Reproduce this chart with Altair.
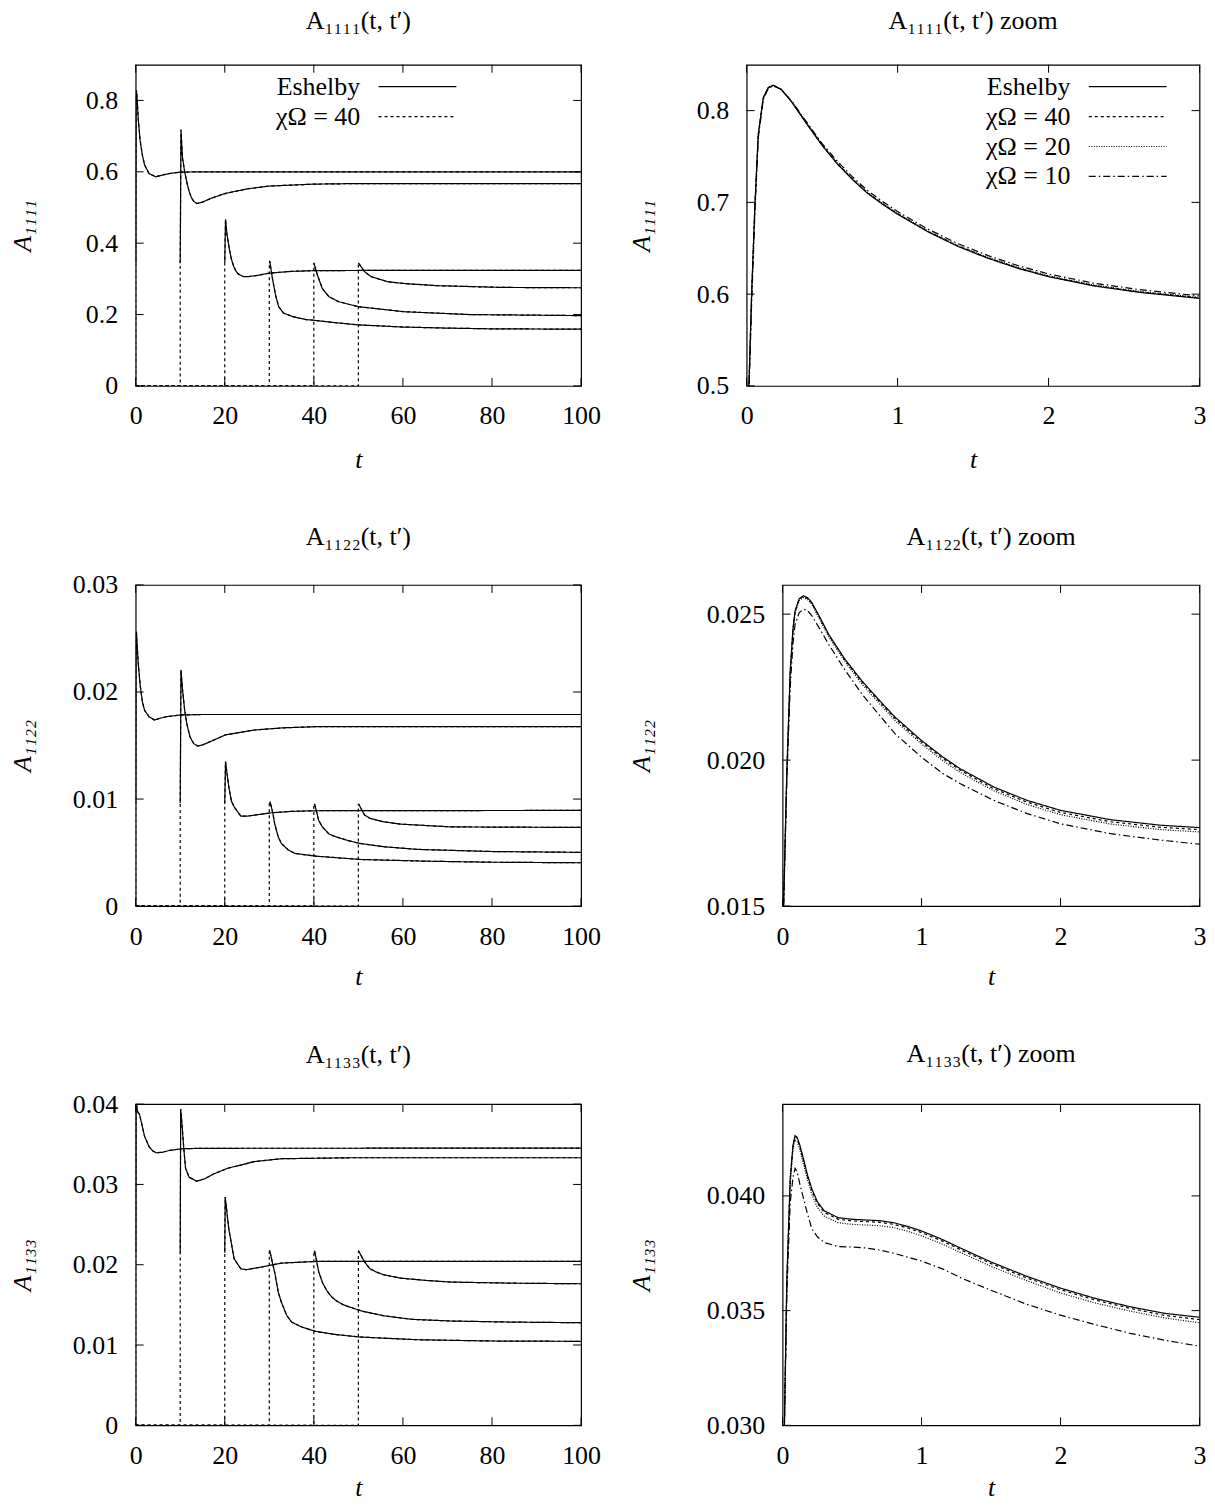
import altair as alt
import pandas as pd

FONT = "Liberation Serif"
FS = 26

STYLES = ["Eshelby", "χΩ = 40", "χΩ = 20", "χΩ = 10"]
DASHES = [[1, 0], [3, 3], [1, 1.5], [7, 3, 1.5, 3]]

TPRIME = [0, 10, 20, 30, 40, 50]

# ---------- A1111, full range (one list per t') ----------
A1111_T = [
    [0, 0.03, 0.06, 0.1, 0.17, 0.3, 0.6, 1.0, 1.5, 2.0, 3.0, 4.5, 6, 8, 10, 15, 100],
    [10, 10.17, 10.5, 11, 11.5, 12, 12.5, 13, 13.7, 15, 17, 20, 25, 30, 40, 50, 100],
    [20, 20.17, 20.5, 21, 21.5, 22, 22.5, 23, 24, 25, 27, 30, 35, 40, 50, 100],
    [30, 30.1, 30.7, 31.4, 32.1, 33.2, 35.3, 38.2, 40, 45, 50, 60, 70, 80, 100],
    [40, 40.8, 41.9, 43.4, 45.6, 50, 60.2, 74.9, 100],
    [50, 51.4, 52.9, 56.6, 60.2, 67.5, 82.2, 100],
]
A1111_V = [
    [0.345, 0.6, 0.74, 0.80, 0.828, 0.81, 0.745, 0.688, 0.647, 0.619, 0.595, 0.586, 0.591, 0.596, 0.599, 0.600, 0.600],
    [0.344, 0.718, 0.64, 0.60, 0.57, 0.545, 0.528, 0.518, 0.511, 0.515, 0.526, 0.539, 0.552, 0.560, 0.5655, 0.567, 0.567],
    [0.345, 0.467, 0.425, 0.385, 0.355, 0.335, 0.322, 0.314, 0.307, 0.306, 0.309, 0.316, 0.321, 0.323, 0.3235, 0.3235],
    [0.345, 0.35, 0.301, 0.255, 0.222, 0.204, 0.194, 0.186, 0.184, 0.177, 0.171, 0.165, 0.162, 0.160, 0.159],
    [0.345, 0.311, 0.273, 0.25, 0.236, 0.222, 0.208, 0.200, 0.197],
    [0.345, 0.32, 0.306, 0.292, 0.287, 0.281, 0.276, 0.275],
]

# ---------- A1122, full range ----------
A1122_T = [
    [0, 0.05, 0.1, 0.17, 0.33, 0.57, 1.0, 1.5, 2.0, 3.0, 4.2, 5.5, 7, 10, 15, 100],
    [10, 10.17, 10.5, 11, 11.5, 12.2, 13, 13.9, 15, 17.5, 20.2, 26.7, 33, 40.4, 100],
    [20, 20.17, 20.9, 21.5, 22.1, 23.6, 25, 26.7, 30.5, 35, 40.4, 100],
    [30, 30.2, 30.8, 31.2, 32.0, 32.7, 34.3, 35.8, 40.4, 50.3, 65, 80, 100],
    [40, 40.2, 41.1, 41.9, 43.4, 44.9, 47.9, 50.3, 55.6, 63.2, 80, 100],
    [50, 50.1, 51.4, 52.6, 55.6, 59.4, 70.8, 100],
]
A1122_V = [
    [0.0096, 0.0228, 0.0252, 0.02564, 0.02432, 0.02272, 0.02067, 0.0191, 0.01828, 0.01769, 0.01738, 0.01755, 0.0177, 0.01785, 0.0179, 0.0179],
    [0.0096, 0.02206, 0.0203, 0.0183, 0.0170, 0.0158, 0.0152, 0.01495, 0.01505, 0.0155, 0.0160, 0.01645, 0.01665, 0.01676, 0.01676],
    [0.0096, 0.01349, 0.01115, 0.0098, 0.00928, 0.0084, 0.0084, 0.0085, 0.00872, 0.00885, 0.00891, 0.00894],
    [0.0096, 0.0097, 0.0087, 0.0077, 0.00648, 0.00586, 0.00523, 0.00492, 0.00467, 0.00436, 0.0042, 0.0041, 0.00405],
    [0.0095, 0.0095, 0.0080, 0.00741, 0.00673, 0.00648, 0.0061, 0.00586, 0.00555, 0.0053, 0.0051, 0.00502],
    [0.0095, 0.0095, 0.0085, 0.0082, 0.00788, 0.00766, 0.0074, 0.00735],
]

# ---------- A1133, full range ----------
A1133_T = [
    [0, 0.055, 0.09, 0.15, 0.28, 0.5, 0.85, 1.28, 2.0, 3.0, 3.8, 4.6, 6, 7.6, 10.3, 15, 100],
    [10, 10.1, 10.4, 10.8, 11.2, 12.0, 13.7, 15.5, 17.5, 20.6, 26.7, 32.7, 48, 100],
    [20, 20.1, 20.9, 22.1, 23.6, 24.8, 28.2, 32.7, 40.4, 100],
    [30, 30.1, 30.6, 31.2, 32.0, 32.7, 33.9, 35.0, 37.3, 40.4, 45, 50.3, 63.2, 80, 100],
    [40, 40.2, 41.1, 42.0, 43.0, 44.0, 45.0, 46.5, 48, 51, 55.6, 62, 70.8, 85, 100],
    [50, 50.1, 51.4, 52.6, 54, 55.6, 59.4, 65, 70.8, 85, 100],
]
A1133_V = [
    [0.0215, 0.04075, 0.04263, 0.04162, 0.03945, 0.039, 0.03873, 0.03772, 0.03598, 0.03471, 0.0342, 0.03394, 0.034, 0.03423, 0.03444, 0.0345, 0.03452],
    [0.0215, 0.0394, 0.0375, 0.0345, 0.032, 0.0309, 0.0304, 0.0307, 0.0313, 0.032, 0.03285, 0.0332, 0.03332, 0.03332],
    [0.0215, 0.02842, 0.02448, 0.02075, 0.0195, 0.01938, 0.01971, 0.0202, 0.02041, 0.02041],
    [0.0215, 0.02178, 0.0205, 0.01909, 0.0166, 0.01535, 0.0137, 0.01286, 0.01224, 0.0117, 0.0113, 0.011, 0.01066, 0.0105, 0.01046],
    [0.0215, 0.02166, 0.0191, 0.0177, 0.0167, 0.0160, 0.01553, 0.01505, 0.01473, 0.0142, 0.01365, 0.0132, 0.01299, 0.01285, 0.01278],
    [0.0215, 0.02166, 0.02033, 0.0195, 0.0191, 0.01876, 0.01834, 0.01805, 0.01784, 0.0177, 0.01763],
]

# ---------- zoom panels (t' = 0, t in [0, 3]) ----------
Z1111_T = [0, 0.015, 0.033, 0.055, 0.077, 0.11, 0.143, 0.176, 0.23, 0.3, 0.4, 0.5, 0.6, 0.7, 0.8, 0.9, 1.0, 1.2, 1.4, 1.6, 1.8, 2.0, 2.3, 2.6, 3.0]
Z1111_E = [0.345, 0.5, 0.6, 0.698, 0.774, 0.814, 0.825, 0.8276, 0.823, 0.809, 0.785, 0.762, 0.742, 0.725, 0.710, 0.698, 0.687, 0.668, 0.652, 0.639, 0.628, 0.619, 0.609, 0.602, 0.5954]
Z1111_C40 = [0.345, 0.5, 0.6, 0.698, 0.774, 0.814, 0.825, 0.8276, 0.823, 0.8093, 0.7855, 0.7625, 0.7425, 0.7255, 0.7105, 0.6985, 0.6875, 0.6685, 0.6525, 0.6395, 0.6285, 0.6195, 0.6095, 0.6025, 0.596]
Z1111_C20 = [0.345, 0.5, 0.6, 0.698, 0.774, 0.814, 0.825, 0.8276, 0.823, 0.8096, 0.786, 0.763, 0.743, 0.726, 0.711, 0.699, 0.688, 0.669, 0.653, 0.640, 0.629, 0.620, 0.610, 0.603, 0.5965]
Z1111_C10 = [0.345, 0.49, 0.59, 0.69, 0.77, 0.812, 0.824, 0.827, 0.823, 0.81, 0.787, 0.764, 0.745, 0.728, 0.713, 0.701, 0.690, 0.671, 0.655, 0.642, 0.631, 0.622, 0.612, 0.605, 0.598]

Z1122_T = [0, 0.007, 0.031, 0.055, 0.075, 0.09, 0.12, 0.15, 0.18, 0.21, 0.27, 0.33, 0.45, 0.57, 0.7, 0.81, 1.0, 1.15, 1.28, 1.52, 1.76, 2.0, 2.36, 2.72, 3.0]
Z1122_E = [0.0096, 0.015, 0.01965, 0.02306, 0.0245, 0.02511, 0.02553, 0.02563, 0.02556, 0.0254, 0.02488, 0.02432, 0.02345, 0.02272, 0.02203, 0.02147, 0.02067, 0.02012, 0.0197, 0.01908, 0.01862, 0.01828, 0.01796, 0.01777, 0.01769]
Z1122_C40 = [0.0096, 0.015, 0.0196, 0.0230, 0.02447, 0.02508, 0.02551, 0.02561, 0.02554, 0.02538, 0.02485, 0.0243, 0.02342, 0.02268, 0.02199, 0.02142, 0.02062, 0.02007, 0.01965, 0.01902, 0.01856, 0.01821, 0.01789, 0.0177, 0.01762]
Z1122_C20 = [0.0096, 0.015, 0.01955, 0.02295, 0.02441, 0.02503, 0.02546, 0.02557, 0.0255, 0.02533, 0.02479, 0.02424, 0.02336, 0.02261, 0.02192, 0.02135, 0.02055, 0.01999, 0.01957, 0.01895, 0.01848, 0.01813, 0.01781, 0.01762, 0.01754]
Z1122_C10 = [0.0096, 0.0148, 0.0194, 0.0225, 0.0240, 0.02465, 0.02505, 0.02517, 0.02512, 0.02495, 0.02448, 0.02398, 0.02308, 0.02227, 0.02152, 0.0209, 0.0201, 0.01955, 0.01919, 0.01862, 0.01817, 0.01782, 0.01748, 0.01726, 0.01712]

Z1133_T = [0, 0.014, 0.031, 0.055, 0.075, 0.09, 0.105, 0.125, 0.15, 0.18, 0.21, 0.25, 0.3, 0.4, 0.5, 0.6, 0.7, 0.8, 0.9, 1.0, 1.15, 1.3, 1.5, 1.75, 2.0, 2.25, 2.5, 2.75, 3.0]
Z1133_E = [0.0215, 0.03035, 0.03642, 0.04075, 0.0422, 0.04263, 0.04255, 0.0422, 0.04162, 0.0409, 0.04032, 0.03975, 0.03935, 0.03905, 0.03898, 0.03895, 0.03892, 0.03883, 0.03867, 0.03847, 0.0381, 0.03767, 0.03712, 0.03651, 0.03598, 0.03553, 0.03517, 0.03488, 0.03471]
Z1133_C40 = [0.0215, 0.0303, 0.0363, 0.0407, 0.04216, 0.0426, 0.04251, 0.04214, 0.04155, 0.04083, 0.04025, 0.03968, 0.03928, 0.03898, 0.03891, 0.03888, 0.03885, 0.03876, 0.0386, 0.0384, 0.03803, 0.0376, 0.03705, 0.03644, 0.03591, 0.03546, 0.0351, 0.03479, 0.03461]
Z1133_C20 = [0.0215, 0.0302, 0.0362, 0.0405, 0.04203, 0.04245, 0.04237, 0.042, 0.0414, 0.04068, 0.04008, 0.0395, 0.03912, 0.03883, 0.03876, 0.03873, 0.0387, 0.03862, 0.03846, 0.03826, 0.0379, 0.03748, 0.03693, 0.03632, 0.03577, 0.03533, 0.03498, 0.03468, 0.03447]
Z1133_C10 = [0.0215, 0.0302, 0.0358, 0.0397, 0.0408, 0.0412, 0.04105, 0.0405, 0.0399, 0.0392, 0.03858, 0.03822, 0.03797, 0.03779, 0.03777, 0.03773, 0.03764, 0.0375, 0.03733, 0.03716, 0.03682, 0.03638, 0.03589, 0.03529, 0.0348, 0.03439, 0.03401, 0.03371, 0.03345]

# ---------- tick labels ----------
XT_FULL = [0, 20, 40, 60, 80, 100]
XT_ZOOM = [0, 1, 2, 3]
YT_1111 = [0, 0.2, 0.4, 0.6, 0.8]
YT_1111Z = [0.5, 0.6, 0.7, 0.8]
YT_1122 = [0, 0.01, 0.02, 0.03]
YT_1122Z = [0.015, 0.020, 0.025]
YT_1133 = [0, 0.01, 0.02, 0.03, 0.04]
YT_1133Z = [0.030, 0.035, 0.040]

# non-breaking spaces (kept alive by a trailing zero-width space) push the
# right-aligned legend labels to the left of their key line, gnuplot style
LABEL_PAD = "\u00a0" * 11 + "\u200b"


def full_df(T, V):
    rows = []
    for k, (ts, vs) in enumerate(zip(T, V)):
        tp = TPRIME[k]
        for i, (t, v) in enumerate(zip(ts, vs)):
            rows.append(dict(curve=f"E{k}", s=STYLES[0], t=t, v=v, i=i))
        ct = [0, tp] + ts
        cv = [0, 0] + vs
        for i, (t, v) in enumerate(zip(ct, cv)):
            rows.append(dict(curve=f"C{k}", s=STYLES[1], t=t, v=v, i=i))
    return pd.DataFrame(rows)


def zoom_df(series):
    rows = []
    for name, ts, vs in series:
        for i, (t, v) in enumerate(zip(ts, vs)):
            rows.append(dict(curve=name, s=name, t=t, v=v, i=i))
    return pd.DataFrame(rows)


def panel(df, W, H, xdom, ydom, xt, yt, xfmt, yfmt, title, ytitle, title_x,
          xtitle_y, title_off, nstyles, legend_xy=None):
    xs = alt.Scale(domain=xdom, nice=False, zero=False)
    ys = alt.Scale(domain=ydom, nice=False, zero=False)
    common = dict(ticks=False, tickSize=0, domain=False, grid=False,
                  labelFont=FONT, labelFontSize=FS, labelColor="black",
                  labelFlush=False, labelOverlap=False,
                  titleFont=FONT, titleFontSize=FS, titleFontStyle="italic",
                  titleFontWeight="normal", titleColor="black")
    xaxis = alt.Axis(values=xt, format=xfmt, title="t", labelPadding=17,
                     titleY=xtitle_y, titleBaseline="alphabetic", **common)
    yaxis = alt.Axis(values=yt, format=yfmt, title=ytitle, labelPadding=18,
                     titleX=title_x, titleBaseline="middle", **common)
    X = alt.X("t:Q", scale=xs, axis=xaxis)
    Y = alt.Y("v:Q", scale=ys, axis=yaxis)
    if legend_xy is not None:
        legend = alt.Legend(orient="none", legendX=legend_xy[0], legendY=legend_xy[1],
                            title=None, labelFont=FONT, labelFontSize=FS,
                            labelColor="black", labelAlign="right", labelOffset=0,
                            labelExpr=f"datum.label + '{LABEL_PAD}'",
                            symbolType="M-3,0H3", symbolSize=676,
                            symbolStrokeColor="black", symbolStrokeWidth=1.2,
                            rowPadding=3, padding=0, labelLimit=0)
    else:
        legend = None
    lines = alt.Chart(df).mark_line(clip=True, color="black", strokeWidth=1.2).encode(
        x=X, y=Y,
        strokeDash=alt.StrokeDash("s:N", scale=alt.Scale(domain=STYLES[:nstyles], range=DASHES[:nstyles]),
                                  legend=legend),
        detail="curve:N",
        order="i:Q",
    )
    xtdf = pd.DataFrame({"t": xt})
    ytdf = pd.DataFrame({"v": yt})
    rule = dict(color="black", strokeWidth=1)
    tb = alt.Chart(xtdf).mark_rule(**rule).encode(x=X, y=alt.value(H), y2=alt.value(H - 8))
    tt = alt.Chart(xtdf).mark_rule(**rule).encode(x=X, y=alt.value(0), y2=alt.value(8))
    tl = alt.Chart(ytdf).mark_rule(**rule).encode(y=Y, x=alt.value(0), x2=alt.value(8))
    tr = alt.Chart(ytdf).mark_rule(**rule).encode(y=Y, x=alt.value(W), x2=alt.value(W - 8))
    return alt.layer(lines, tb, tt, tl, tr).properties(
        width=W, height=H,
        title=alt.TitleParams(title, font=FONT, fontSize=FS, fontWeight="normal",
                              color="black", frame="group", anchor="middle",
                              offset=title_off, baseline="alphabetic"))


H = 322
WL = 446.5  # left column plot width (shared origin for all rows)
p1 = panel(full_df(A1111_T, A1111_V), WL, H, [0, 100], [0, 0.9], XT_FULL, YT_1111, "d", ".1~f",
           "A₁₁₁₁(t, t′)", "A₁₁₁₁", -113.5, 82, 9, 2, legend_xy=(268.5, 8))
p2 = panel(zoom_df([(STYLES[0], Z1111_T, Z1111_E), (STYLES[1], Z1111_T, Z1111_C40),
                    (STYLES[2], Z1111_T, Z1111_C20), (STYLES[3], Z1111_T, Z1111_C10)]),
           454, H, [0, 3], [0.5, 0.85], XT_ZOOM, YT_1111Z, "d", ".1f",
           "A₁₁₁₁(t, t′) zoom", "A₁₁₁₁", -105, 82, 9, 4, legend_xy=(368, 8))
p3 = panel(full_df(A1122_T, A1122_V), WL, H, [0, 100], [0, 0.03], XT_FULL, YT_1122, "d", ".2~f",
           "A₁₁₂₂(t, t′)", "A₁₁₂₂", -113.5, 79, 1, 2)
p4 = panel(zoom_df([(STYLES[0], Z1122_T, Z1122_E), (STYLES[1], Z1122_T, Z1122_C40),
                    (STYLES[2], Z1122_T, Z1122_C20), (STYLES[3], Z1122_T, Z1122_C10)]),
           418, H, [0, 3], [0.015, 0.026], XT_ZOOM, YT_1122Z, "d", ".3f",
           "A₁₁₂₂(t, t′) zoom", "A₁₁₂₂", -141, 79, 13.5, 4)
p5 = panel(full_df(A1133_T, A1133_V), WL, H, [0, 100], [0, 0.04], XT_FULL, YT_1133, "d", ".2~f",
           "A₁₁₃₃(t, t′)", "A₁₁₃₃", -113.5, 70, 2.5, 2)
p6 = panel(zoom_df([(STYLES[0], Z1133_T, Z1133_E), (STYLES[1], Z1133_T, Z1133_C40),
                    (STYLES[2], Z1133_T, Z1133_C20), (STYLES[3], Z1133_T, Z1133_C10)]),
           418, H, [0, 3], [0.030, 0.044], XT_ZOOM, YT_1133Z, "d", ".3f",
           "A₁₁₃₃(t, t′) zoom", "A₁₁₃₃", -141, 70, 15.5, 4)


def row(a, b):
    return (alt.hconcat(a, b, spacing=26.5)
            .resolve_scale(strokeDash="independent")
            .resolve_legend(strokeDash="independent"))


chart = (alt.concat(row(p1, p2), row(p3, p4), row(p5, p6), columns=1,
                    spacing=49.5, align="none")
         .resolve_scale(strokeDash="independent")
         .resolve_legend(strokeDash="independent")
         .configure_view(stroke="black", strokeWidth=1.2)
         .properties(padding={"left": 0, "top": -3, "right": 0, "bottom": 0},
                     background="white"))

chart.save("out.html", embed_options={"renderer": "svg", "actions": False})
